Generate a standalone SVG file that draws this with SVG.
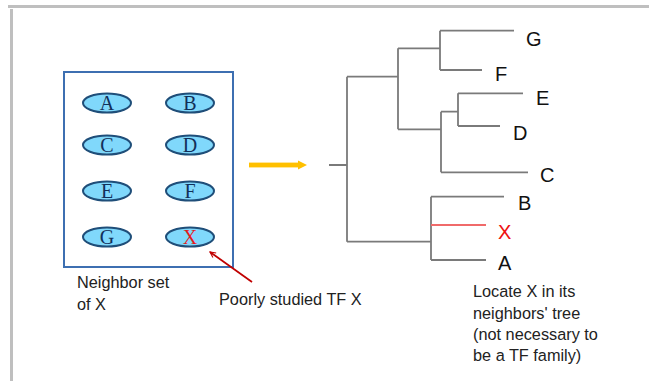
<svg xmlns="http://www.w3.org/2000/svg" width="649" height="381" viewBox="0 0 649 381">
  <defs>
    <style>
      .frame { fill: #bfbfbf; }
      .setbox { fill: #ffffff; stroke: #3d6fb1; stroke-width: 2; }
      .gene ellipse { fill: #80d8fb; stroke: #1f4e79; stroke-width: 2; }
      .gene text { font-family: "Liberation Serif", "DejaVu Serif", serif; font-size: 20px; fill: #12305a; text-anchor: middle; }
      .gene text.query { fill: #e31b1b; }
      .branch { fill: none; stroke: #7a7a7a; stroke-width: 1.8; }
      .branch.query { stroke: #f06a6a; }
      .leaf { font-family: "Liberation Sans", Arial, sans-serif; font-size: 20px; fill: #111111; }
      .leaf.query { fill: #ee1111; }
      .note { font-family: "Liberation Sans", Arial, sans-serif; font-size: 16.3px; fill: #222222; }
    </style>
    <marker id="openHead" viewBox="0 0 10 10" refX="9" refY="5" markerWidth="7" markerHeight="7" markerUnits="userSpaceOnUse" orient="auto">
      <path d="M1,1 L9,5 L1,9" fill="none" stroke="#c00000" stroke-width="1.6"/>
    </marker>
  </defs>

  <rect width="649" height="381" fill="#ffffff"/>

  <!-- outer frame (top and left edges) -->
  <rect class="frame" x="8" y="5" width="641" height="3"/>
  <rect class="frame" x="10" y="9" width="3" height="372"/>

  <!-- neighbor set of X -->
  <g id="neighbor-set">
    <rect class="setbox" x="64" y="72" width="169" height="195"/>
  </g>
  <g id="gene-A" class="gene"><ellipse cx="107" cy="103" rx="24" ry="9.5"/><text x="107" y="110">A</text></g>
  <g id="gene-B" class="gene"><ellipse cx="190" cy="103" rx="24" ry="9.5"/><text x="190" y="110">B</text></g>
  <g id="gene-C" class="gene"><ellipse cx="107" cy="145" rx="24" ry="9.5"/><text x="107" y="152">C</text></g>
  <g id="gene-D" class="gene"><ellipse cx="190" cy="145" rx="24" ry="9.5"/><text x="190" y="152">D</text></g>
  <g id="gene-E" class="gene"><ellipse cx="107" cy="191" rx="24" ry="9.5"/><text x="107" y="198">E</text></g>
  <g id="gene-F" class="gene"><ellipse cx="190" cy="191" rx="24" ry="9.5"/><text x="190" y="198">F</text></g>
  <g id="gene-G" class="gene"><ellipse cx="107" cy="237" rx="24" ry="9.5"/><text x="107" y="244">G</text></g>
  <g id="gene-X" class="gene"><ellipse cx="190" cy="237" rx="24" ry="9.5"/><text class="query" x="190" y="244">X</text></g>

  <!-- connectors -->
  <g id="connectors">
    <line x1="252" y1="282" x2="210" y2="252" stroke="#c00000" stroke-width="1.8" marker-end="url(#openHead)"/>
    <rect x="249" y="162.6" width="50" height="4.8" fill="#ffc000"/>
    <polygon points="298,160.5 307,165 298,169.5" fill="#ffc000"/>
  </g>

  <!-- neighbors' tree -->
  <g id="tree">
    <path class="branch" d="M329,165 H347 M347,76.7 V241.7
      M347,76.7 H398 M398,48.3 V129.3
      M398,48.3 H440 M440,30.7 V70 M440,30.7 H514 M440,70 H482
      M398,129.3 H441 M441,111.7 V172.3 M441,111.7 H458 M458,93.3 V126
      M458,93.3 H523 M458,126 H500 M441,172.3 H528
      M347,241.7 H431 M431,196.7 V260 M431,196.7 H504 M431,260 H486"/>
    <path class="branch query" d="M431,225 H486"/>
  </g>
  <g id="leaf-G"><text class="leaf" x="526" y="46">G</text></g>
  <g id="leaf-F"><text class="leaf" x="495" y="81">F</text></g>
  <g id="leaf-E"><text class="leaf" x="536" y="105">E</text></g>
  <g id="leaf-D"><text class="leaf" x="513" y="140">D</text></g>
  <g id="leaf-C"><text class="leaf" x="540" y="182">C</text></g>
  <g id="leaf-B"><text class="leaf" x="518" y="210">B</text></g>
  <g id="leaf-X"><text class="leaf query" x="498" y="239">X</text></g>
  <g id="leaf-A"><text class="leaf" x="498" y="270">A</text></g>

  <!-- captions -->
  <g id="caption-set">
    <text class="note" x="77" y="288">Neighbor set</text>
    <text class="note" x="77" y="310">of X</text>
  </g>
  <g id="caption-query">
    <text class="note" x="219" y="305">Poorly studied TF X</text>
  </g>
  <g id="caption-tree">
    <text class="note" x="473" y="297">Locate X in its</text>
    <text class="note" x="473" y="318.5">neighbors' tree</text>
    <text class="note" x="473" y="340">(not necessary to</text>
    <text class="note" x="473" y="361">be a TF family)</text>
  </g>
</svg>
